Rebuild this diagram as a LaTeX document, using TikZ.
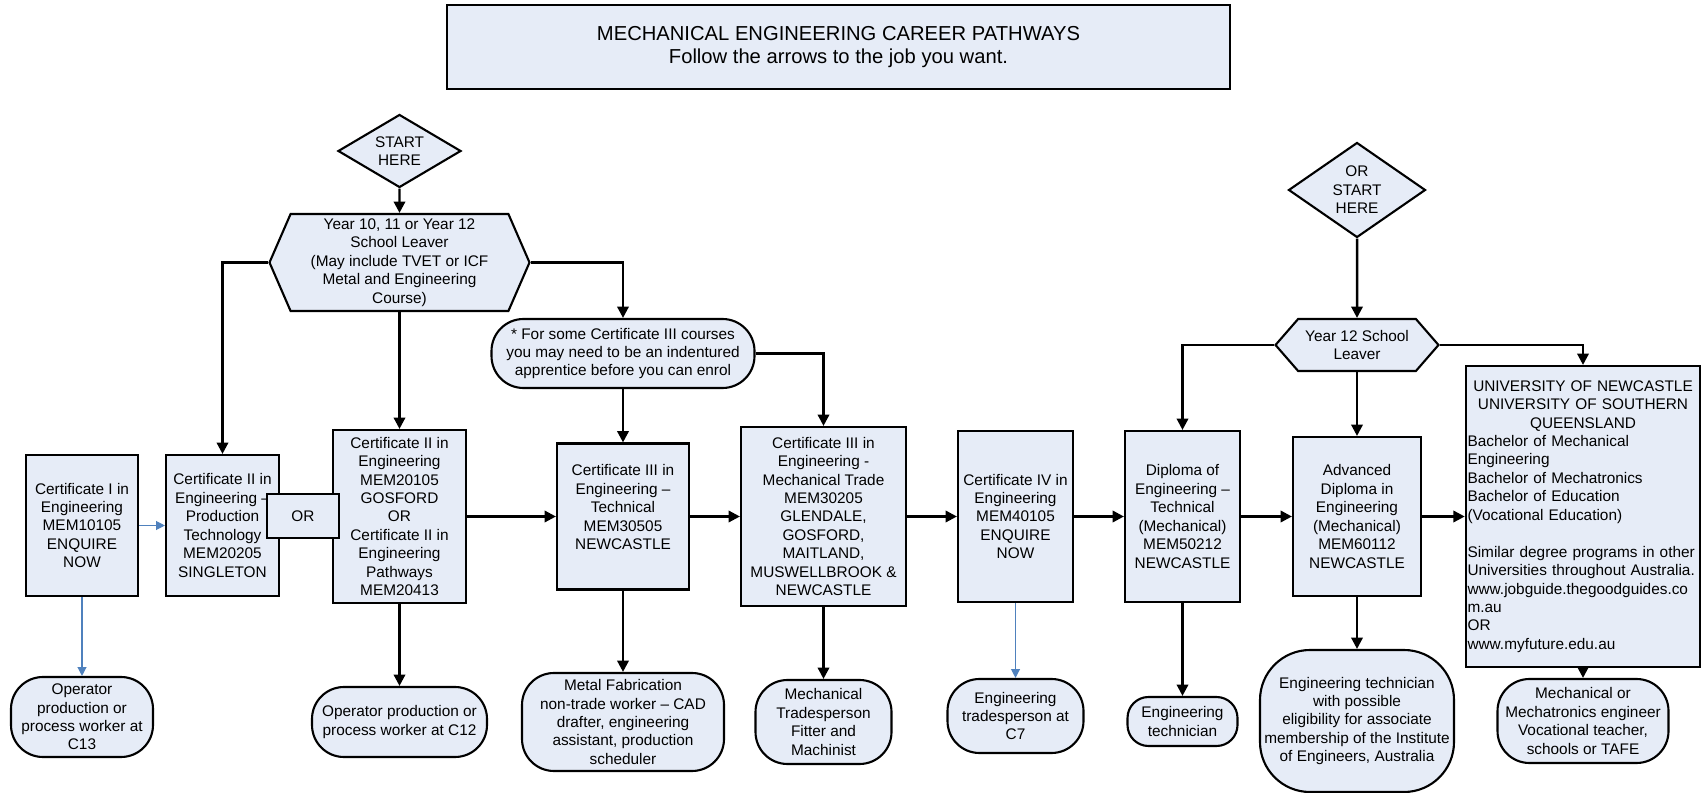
\documentclass[tikz,border=0pt]{standalone}
\usepackage{fontspec}
\setmainfont{Liberation Sans}
\usetikzlibrary{shapes,arrows.meta,positioning}
\definecolor{boxfill}{RGB}{230,236,247}
\definecolor{linkblue}{RGB}{79,129,189}

\begin{document}
\begin{tikzpicture}[
    x=0.02cm, y=-0.02cm,
    >={Triangle[length=6.5pt,width=6.5pt]},
    wh/.style 2 args={minimum width=#1*0.02cm, minimum height=#2*0.02cm},
    base/.style={draw, line width=1.2pt, fill=boxfill, inner sep=1pt, align=center, font=\fontsize{8.75pt}{10.5pt}\selectfont},
    box/.style={base, rectangle},
    term/.style={base, rectangle, rounded corners=0.64cm},
    choice/.style={base, diamond, inner sep=0pt},
    leaver/.style={base, signal, signal to=east and west},
    flow/.style={->, line width=1.4pt},
    minor/.style={-{Triangle[length=5pt,width=5pt]}, line width=0.7pt, linkblue}
]
\useasboundingbox (0,0) rectangle (1707,793);

% title
\node[box, wh={783}{84}, font=\fontsize{11.5pt}{13.6pt}\selectfont] (title) at (838.5,47) {MECHANICAL ENGINEERING CAREER PATHWAYS\\Follow the arrows to the job you want.};

% starting points
\node[choice, wh={123}{73}, shape aspect=1.7] (start1) at (399.5,151) {START\\HERE};
\node[leaver, wh={260}{97}, signal pointer angle=133] (hex1) at (399.5,262.5) {Year 10, 11 or Year 12\\School Leaver\\(May include TVET or ICF\\Metal and Engineering\\Course)};
\node[term, wh={263}{69}] (note) at (623,353.5) {* For some Certificate III courses\\you may need to be an indentured\\apprentice before you can enrol};
\node[choice, wh={137}{95}, shape aspect=1.45] (start2) at (1357,190) {OR\\START\\HERE};
\node[leaver, wh={163}{52}, signal pointer angle=98] (hex2) at (1357,345) {Year 12 School\\Leaver};

% courses
\node[box, wh={112}{141}] (cert1) at (82,525.5) {Certificate I in\\Engineering\\MEM10105\\ENQUIRE\\NOW};
\node[box, wh={113}{141}] (cert2p) at (222.5,525.5) {Certificate II in\\Engineering –\\Production\\Technology\\MEM20205\\SINGLETON};
\node[box, wh={133}{173}] (cert2g) at (399.5,516.5) {Certificate II in\\Engineering\\MEM20105\\GOSFORD\\OR\\Certificate II in\\Engineering\\Pathways\\MEM20413};
\node[box, wh={72}{44}] (orbox) at (303,516) {OR};
\node[box, wh={132}{146}] (cert3t) at (623,516.5) {Certificate III in\\Engineering –\\Technical\\MEM30505\\NEWCASTLE\\~};
\node[box, wh={165}{179}] (cert3m) at (823.5,516.5) {Certificate III in\\Engineering -\\Mechanical Trade\\MEM30205\\GLENDALE,\\GOSFORD,\\MAITLAND,\\MUSWELLBROOK \&\\NEWCASTLE};
\node[box, wh={115}{171}] (cert4) at (1015.5,516.5) {Certificate IV in\\Engineering\\MEM40105\\ENQUIRE\\NOW};
\node[box, wh={115}{171}] (dipl) at (1182.5,516.5) {Diploma of\\Engineering –\\Technical\\(Mechanical)\\MEM50212\\NEWCASTLE};
\node[box, wh={128}{159}] (adip) at (1357,516.5) {Advanced\\Diploma in\\Engineering\\(Mechanical)\\MEM60112\\NEWCASTLE};
\node[box, wh={234}{301}, text width=4.62cm, align=left] (uni) at (1583,516.5) {{\centering UNIVERSITY OF NEWCASTLE\\UNIVERSITY OF SOUTHERN\\QUEENSLAND\par}Bachelor of Mechanical\\Engineering\\Bachelor of Mechatronics\\Bachelor of Education\\(Vocational Education)\\[\baselineskip]Similar degree programs in other\\Universities throughout Australia.\\www.jobguide.thegoodguides.co\\m.au\\OR\\www.myfuture.edu.au};

% jobs
\node[term, wh={142}{80}] (op13) at (82,717) {Operator\\production or\\process worker at\\C13};
\node[term, wh={175}{70}] (op12) at (399.5,722) {Operator production or\\process worker at C12};
\node[term, wh={202}{98}] (metal) at (623,722) {Metal Fabrication\\non-trade worker – CAD\\drafter, engineering\\assistant, production\\scheduler};
\node[term, wh={136}{84}] (mechtr) at (823.5,722) {Mechanical\\Tradesperson\\Fitter and\\Machinist};
\node[term, wh={136}{74}] (c7) at (1015.5,716) {Engineering\\tradesperson at\\C7};
\node[term, wh={110}{49}, rounded corners=0.42cm] (etech) at (1182.5,721.5) {Engineering\\technician};
\node[term, wh={194}{142}, rounded corners=1cm] (etechp) at (1357,721) {Engineering technician\\with possible\\eligibility for associate\\membership of the Institute\\of Engineers, Australia};
\node[term, wh={171}{84}] (mecheng) at (1583,721) {Mechanical or\\Mechatronics engineer\\Vocational teacher,\\schools or TAFE};

% connectors
\draw[flow] (start1) -- (hex1);
\draw[flow] (hex1.west) -| (cert2p.north);
\draw[flow] (hex1.south) -- (cert2g.north);
\draw[flow] (hex1.east) -| (note.north);
\draw[flow] (note.south) -- (cert3t.north);
\draw[flow] (note.east) -| (cert3m.north);
\draw[flow] (start2) -- (hex2);
\draw[flow] (hex2.west) -| (dipl.north);
\draw[flow] (hex2.south) -- (adip.north);
\draw[flow] (hex2.east) -| (uni.north);

\draw[minor] (cert1) -- (cert2p);
\draw[flow] (cert2g) -- (cert3t);
\draw[flow] (cert3t) -- (cert3m);
\draw[flow] (cert3m) -- (cert4);
\draw[flow] (cert4) -- (dipl);
\draw[flow] (dipl) -- (adip);
\draw[flow] (adip) -- (uni);

\draw[minor] (cert1) -- (op13);
\draw[flow] (cert2g) -- (op12);
\draw[flow] (cert3t) -- (metal);
\draw[flow] (cert3m) -- (mechtr);
\draw[minor] (cert4) -- (c7);
\draw[flow] (dipl) -- (etech);
\draw[flow] (adip) -- (etechp);
\draw[flow] (uni) -- (mecheng);

\end{tikzpicture}
\end{document}
